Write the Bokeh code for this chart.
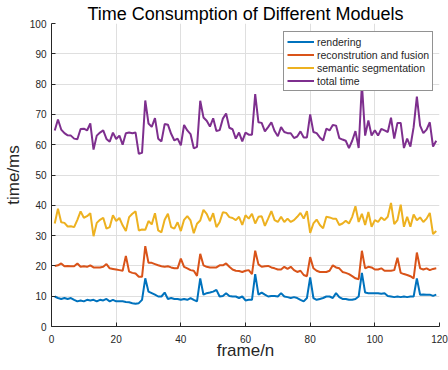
from bokeh.plotting import figure
from bokeh.models import Range1d, FixedTicker, Legend, LegendItem, ColumnDataSource, Title
from bokeh.embed import file_html
from bokeh.resources import INLINE

frames = list(range(1, 120))

rendering = [
    9.9, 9.4, 9.1, 9.4, 9.1, 9.4, 8.8, 8.3, 8.6, 8.3,
    8.8, 8.6, 8.8, 8.3, 8.8, 8.6, 9.1, 8.3, 8.8, 8.3,
    8.3, 8.3, 8.1, 8.0, 7.7, 7.5, 7.7, 8.8, 15.9, 11.5,
    11.0, 10.5, 9.9, 9.9, 11.2, 9.1, 9.4, 9.1, 9.1, 8.8,
    9.1, 8.8, 9.4, 8.8, 8.3, 15.9, 10.5, 11.0, 11.2, 11.5,
    12.1, 9.9, 10.1, 11.0, 10.1, 9.9, 9.9, 9.4, 9.9, 8.6,
    8.8, 8.8, 17.3, 10.5, 11.2, 10.5, 9.9, 10.1, 10.1, 9.9,
    11.0, 9.9, 9.7, 9.4, 9.7, 9.4, 8.8, 8.3, 9.4, 16.2,
    9.4, 8.8, 9.1, 9.4, 9.9, 9.9, 9.4, 11.0, 9.7, 9.1,
    9.1, 8.8, 8.8, 9.1, 9.9, 17.7, 11.2, 11.0, 11.0, 11.0,
    11.0, 10.8, 11.0, 10.1, 9.9, 9.7, 9.9, 9.7, 9.9, 9.7,
    9.9, 9.9, 15.9, 10.5, 10.6, 10.5, 10.5, 10.1, 10.5,
]

reconstruction = [
    20.0, 20.2, 20.8, 19.9, 20.0, 19.9, 19.9, 20.8, 19.7, 19.9,
    19.7, 20.2, 19.5, 19.5, 19.5, 19.7, 20.6, 19.2, 19.0, 18.8,
    18.6, 18.4, 23.3, 18.1, 17.7, 17.5, 16.4, 16.4, 26.5, 21.0,
    21.0, 20.6, 20.2, 19.9, 19.7, 19.9, 19.5, 19.2, 19.2, 22.4,
    19.7, 19.2, 18.6, 18.4, 16.7, 24.0, 20.2, 19.7, 19.5, 19.5,
    19.5, 20.2, 20.2, 20.8, 19.7, 18.8, 18.4, 18.3, 18.0, 18.4,
    18.6, 17.3, 25.0, 20.5, 19.7, 19.9, 20.0, 19.5, 19.2, 18.8,
    18.8, 19.7, 19.0, 19.7, 18.6, 18.0, 18.4, 17.0, 16.6, 22.9,
    19.2, 18.4, 18.0, 18.0, 18.0, 18.4, 20.2, 19.5, 19.2, 18.0,
    17.7, 17.3, 16.6, 15.9, 15.6, 25.0, 19.2, 19.7, 19.5, 18.8,
    18.8, 19.2, 18.4, 18.4, 18.4, 18.6, 22.7, 17.7, 17.3, 17.0,
    16.6, 15.9, 24.4, 19.2, 18.8, 19.2, 18.6, 19.0, 19.2,
]

semantic = [
    34.0, 38.9, 34.4, 34.2, 33.0, 33.1, 32.8, 35.2, 38.0, 35.9,
    36.4, 37.4, 29.8, 34.2, 35.2, 35.9, 32.3, 32.8, 36.7, 34.8,
    35.8, 33.4, 31.5, 36.1, 37.2, 38.0, 31.7, 32.0, 31.9, 34.8,
    33.7, 37.4, 31.7, 31.1, 35.2, 37.2, 32.8, 32.3, 34.4, 31.5,
    35.2, 36.4, 35.0, 30.8, 33.9, 35.0, 38.5, 37.2, 34.8, 37.4,
    32.8, 34.4, 37.7, 37.5, 36.1, 35.8, 35.1, 36.2, 33.5, 36.7,
    35.6, 37.2, 34.0, 36.2, 36.4, 33.2, 35.6, 38.1, 35.1, 34.5,
    36.2, 34.5, 35.6, 34.5, 35.1, 36.2, 37.5, 35.6, 38.1, 30.9,
    34.0, 35.3, 33.5, 32.4, 36.2, 36.0, 35.6, 35.6, 33.5, 34.0,
    34.9, 34.0, 36.2, 39.7, 34.5, 37.2, 33.5, 37.8, 32.9, 35.1,
    34.5, 36.0, 35.1, 36.2, 40.8, 33.8, 35.1, 40.2, 32.9, 36.2,
    32.9, 37.0, 35.1, 36.0, 34.5, 35.6, 37.5, 30.5, 31.5,
]

total = [
    64.7, 68.3, 65.0, 63.8, 63.1, 63.0, 62.0, 61.8, 65.2, 65.3,
    64.7, 67.0, 58.4, 63.0, 64.0, 64.7, 61.9, 61.0, 64.0, 61.9,
    63.0, 60.0, 63.8, 64.0, 63.8, 64.0, 57.0, 57.3, 74.6, 67.0,
    65.9, 68.8, 62.0, 61.1, 66.8, 66.6, 63.6, 61.4, 62.0, 59.8,
    66.5, 64.7, 63.5, 58.8, 59.3, 74.5, 69.0, 67.9, 66.0, 68.7,
    64.5, 64.8, 68.6, 70.3, 65.6, 65.1, 62.0, 64.0, 61.1, 64.0,
    63.3, 63.3, 76.7, 67.4, 67.2, 64.4, 65.8, 67.4, 64.5, 62.8,
    65.8, 64.2, 63.8, 63.8, 62.2, 62.7, 64.4, 62.4, 62.4, 70.0,
    64.2, 63.8, 62.4, 61.4, 65.3, 64.7, 66.5, 66.3, 62.2, 61.7,
    61.3, 58.9, 61.3, 64.5, 58.9, 80.0, 63.0, 68.0, 63.0, 64.8,
    63.0, 65.2, 64.7, 64.2, 68.9, 62.0, 67.2, 67.2, 58.9, 62.0,
    59.4, 65.8, 75.9, 66.3, 63.8, 65.0, 67.4, 59.4, 61.3,
]

series_names = ["rendering", "reconstrution and fusion", "semantic segmentation", "total time"]
series_colors = ["#0072BD", "#D95319", "#EDB120", "#7E2F8E"]
x_ticks = [0, 20, 40, 60, 80, 100, 120]
y_ticks = [0, 10, 20, 30, 40, 50, 60, 70, 80, 90, 100]
title_text = "Time Consumption of Different Moduels"
x_label = "frame/n"
y_label = "time/ms"

FONT = "Liberation Sans"
AX = "#262626"

p = figure(width=448, height=370, output_backend="svg", toolbar_location=None,
           x_range=Range1d(0, 120), y_range=Range1d(0, 100), title=None,
           min_border_left=51, min_border_right=9, min_border_top=23, min_border_bottom=44)
p.outline_line_color = None
p.background_fill_color = "white"

p.add_layout(Title(text=title_text, align="center", text_font=FONT, text_font_size="18px",
                   text_font_style="normal", text_color="black", standoff=0), "above")

for ax, ticks in ((p.xaxis[0], x_ticks), (p.yaxis[0], y_ticks)):
    ax.ticker = FixedTicker(ticks=ticks, minor_ticks=[])
    ax.axis_line_color = AX
    ax.major_tick_line_color = AX
    ax.major_tick_in = 4
    ax.major_tick_out = 0
    ax.minor_tick_line_color = None
    ax.major_label_text_font = FONT
    ax.major_label_text_font_size = "10px"
    ax.major_label_text_color = AX
    ax.axis_label_text_font = FONT
    ax.axis_label_text_font_size = "17px"
    ax.axis_label_text_font_style = "normal"
    ax.axis_label_text_color = AX
p.xaxis.major_label_standoff = 8
p.yaxis.major_label_standoff = 5
p.xaxis.axis_label = x_label
p.yaxis.axis_label = y_label
p.xaxis.axis_label_standoff = -5
p.yaxis.axis_label_standoff = 4

p.xgrid.ticker = FixedTicker(ticks=x_ticks)
p.ygrid.ticker = FixedTicker(ticks=y_ticks)
p.xgrid.grid_line_color = "#dfdfdf"
p.ygrid.grid_line_color = "#dfdfdf"

items = []
for name, col, ys in zip(series_names, series_colors, [rendering, reconstruction, semantic, total]):
    src = ColumnDataSource(dict(x=frames, y=ys))
    r = p.line("x", "y", source=src, line_color=col, line_width=2)
    items.append(LegendItem(label=name, renderers=[r]))

legend = Legend(items=items, location=(232, 235), glyph_width=27, glyph_height=13,
                label_height=13, label_standoff=3, padding=3, spacing=0, margin=0,
                label_text_font=FONT, label_text_font_size="10.5px", label_text_color=AX,
                border_line_color=AX, border_line_width=1, background_fill_color="white",
                background_fill_alpha=1)
p.add_layout(legend)

open("out.html", "w").write(file_html(p, INLINE))
